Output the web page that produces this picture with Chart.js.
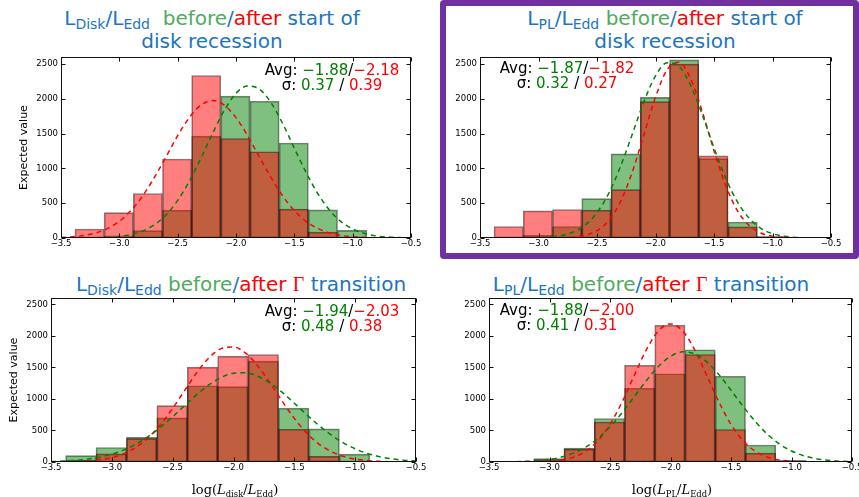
<!DOCTYPE html>
<html>
<head>
<meta charset="utf-8">
<script src="https://cdn.jsdelivr.net/npm/chart.js@4.4.0/dist/chart.umd.min.js"></script>
<style>
body { margin:0; width:859px; height:497px; overflow:hidden; background:#fff; position:relative; font-family:'DejaVu Sans', sans-serif; }
canvas { position:absolute; }
.ttl { position:absolute; font-size:20px; line-height:21px; text-align:center; color:#1b75c2; width:400px; white-space:nowrap; }
.sb { font-size:0.7em; position:relative; top:0.3em; }
.gam { font-family:'Liberation Serif', serif; }
.tg { color:#4fab5e; }
.tr { color:#ff0000; }
.ann { position:absolute; font-size:15px; line-height:15px; text-align:center; width:200px; color:#000; white-space:nowrap; }
.g { color:#008000; }
.r { color:#ff0000; }
.xl { position:absolute; font-family:'DejaVu Serif', serif; font-size:13px; width:200px; text-align:center; color:#000; }
.xl .s2 { font-size:0.65em; position:relative; top:0.35em; }
#box { position:absolute; left:440px; top:0; width:419px; height:259px; border:6px solid #7030a0; box-sizing:border-box; border-radius:4px; }
</style>
</head>
<body>

<div class="ttl" style="left:12px;top:8px">L<span class="sb">Disk</span>/L<span class="sb">Edd</span>&nbsp; <span class="tg">before</span>/<span class="tr">after</span> start of<br>disk recession</div>
<div class="ttl" style="left:465px;top:8px">L<span class="sb">PL</span>/L<span class="sb">Edd</span> <span class="tg">before</span>/<span class="tr">after</span> start of<br>disk recession</div>
<div class="ttl" style="left:41px;top:274px">L<span class="sb">Disk</span>/L<span class="sb">Edd</span> <span class="tg">before</span>/<span class="tr">after</span> <span class="gam tr">&Gamma;</span> transition</div>
<div class="ttl" style="left:451px;top:274px">L<span class="sb">PL</span>/L<span class="sb">Edd</span> <span class="tg">before</span>/<span class="tr">after</span> <span class="gam tr">&Gamma;</span> transition</div>

<canvas id="c1" width="430" height="212" style="left:0;top:49px"></canvas>
<canvas id="c2" width="419" height="212" style="left:440px;top:49px"></canvas>
<canvas id="c3" width="430" height="207" style="left:0;top:290px"></canvas>
<canvas id="c4" width="440" height="207" style="left:440px;top:290px"></canvas>

<div class="ann" style="left:232px;top:63px">Avg: <span class="g">&minus;1.88</span>/<span class="r">&minus;2.18</span><br>&sigma;: <span class="g">0.37</span> / <span class="r">0.39</span></div>
<div class="ann" style="left:467px;top:61px">Avg: <span class="g">&minus;1.87</span>/<span class="r">&minus;1.82</span><br>&sigma;: <span class="g">0.32</span> / <span class="r">0.27</span></div>
<div class="ann" style="left:232px;top:304px">Avg: <span class="g">&minus;1.94</span>/<span class="r">&minus;2.03</span><br>&sigma;: <span class="g">0.48</span> / <span class="r">0.38</span></div>
<div class="ann" style="left:467px;top:303px">Avg: <span class="g">&minus;1.88</span>/<span class="r">&minus;2.00</span><br>&sigma;: <span class="g">0.41</span> / <span class="r">0.31</span></div>

<div class="xl" style="left:135px;top:482px">log(<i>L</i><span class="s2">disk</span>/<i>L</i><span class="s2">Edd</span>)</div>
<div class="xl" style="left:572px;top:482px">log(<i>L</i><span class="s2">PL</span>/<i>L</i><span class="s2">Edd</span>)</div>

<div id="box"></div>

<script>
// histogram bins (centres, width 0.25)
var binCenters = [-3.255, -3.005, -2.755, -2.505, -2.255, -2.005, -1.755, -1.505, -1.255, -1.005];

// tick labels
var xTicks = [-3.5, -3.0, -2.5, -2.0, -1.5, -1.0, -0.5];
var yTicks = [0, 500, 1000, 1500, 2000, 2500];

// L_disk/L_Edd, before/after start of disk recession
var diskRecBefore = [5, 30, 105, 400, 1465, 2040, 1965, 1365, 405, 110];
var diskRecAfter  = [130, 365, 640, 1135, 2335, 1430, 1240, 415, 85, 15];
// L_PL/L_Edd, before/after start of disk recession
var plRecBefore = [15, 40, 165, 565, 1210, 2020, 2560, 1140, 230, 25];
var plRecAfter  = [165, 390, 410, 400, 695, 1960, 2500, 1180, 160, 8];
// L_disk/L_Edd, before/after Gamma transition
var diskGamBefore = [100, 230, 390, 700, 1210, 1195, 1600, 855, 525, 125];
var diskGamAfter  = [25, 130, 370, 895, 1505, 1680, 1705, 520, 90, 10];
// L_PL/L_Edd, before/after Gamma transition
var plGamBefore = [15, 55, 220, 690, 1170, 1400, 1780, 1360, 270, 25];
var plGamAfter  = [5, 40, 205, 635, 1535, 2170, 1705, 515, 140, 10];

// dashed fit curves at these x
var curveX = [-3.5, -3.4, -3.3, -3.2, -3.1, -3.0, -2.9, -2.8, -2.7, -2.6, -2.5, -2.4, -2.3, -2.2, -2.1, -2.0,
              -1.9, -1.8, -1.7, -1.6, -1.5, -1.4, -1.3, -1.2, -1.1, -1.0, -0.9, -0.8, -0.7, -0.6, -0.5];

var diskRecFitBefore = [0, 1, 1, 4, 10, 22, 50, 100, 190, 330, 540, 815, 1150, 1505, 1835, 2080,
                        2185, 2140, 1945, 1645, 1290, 945, 640, 405, 235, 130, 65, 30, 14, 6, 2];
var diskRecFitAfter  = [8, 17, 37, 74, 138, 240, 395, 605, 870, 1165, 1470, 1730, 1910, 1975, 1910, 1730,
                        1470, 1165, 870, 605, 395, 240, 138, 74, 37, 17, 8, 3, 1, 0, 0];
var plRecFitBefore = [0, 0, 0, 0, 1, 5, 14, 37, 88, 188, 365, 640, 1025, 1485, 1955, 2330,
                      2520, 2470, 2195, 1770, 1295, 860, 520, 285, 140, 63, 26, 9, 3, 1, 0];
var plRecFitAfter  = [0, 0, 0, 0, 0, 0, 1, 4, 12, 39, 105, 250, 520, 940, 1480, 2025,
                      2420, 2525, 2290, 1815, 1255, 755, 395, 180, 72, 25, 8, 2, 1, 0, 0];
var diskGamFitBefore = [7, 14, 26, 45, 77, 124, 192, 285, 405, 552, 719, 897, 1072, 1226, 1343, 1409,
                        1415, 1361, 1253, 1105, 933, 754, 584, 433, 307, 209, 136, 85, 50, 29, 16];
var diskGamFitAfter  = [1, 3, 7, 16, 35, 70, 133, 235, 387, 594, 852, 1139, 1422, 1656, 1799, 1824,
                        1726, 1524, 1255, 965, 692, 463, 289, 169, 92, 46, 22, 10, 4, 2, 1];
var plGamFitBefore = [1, 2, 4, 10, 21, 42, 79, 141, 237, 374, 558, 783, 1035, 1290, 1515, 1677,
                      1748, 1717, 1589, 1386, 1139, 882, 644, 442, 286, 175, 100, 54, 28, 13, 6];
var plGamFitAfter  = [0, 0, 0, 1, 4, 12, 32, 78, 171, 337, 597, 952, 1371, 1779, 2079, 2190,
                      2079, 1779, 1371, 952, 597, 337, 171, 78, 32, 12, 4, 1, 0, 0, 0];

var tickFont = { family: 'DejaVu Sans', size: 8.5 };

function minusFmt(v) {
  return (v < 0 ? '\u2212' : '') + Math.abs(v).toFixed(1);
}

function pts(xs, ys) {
  return xs.map(function (x, i) { return { x: x, y: ys[i] }; });
}

function asTicks(arr) {
  return arr.map(function (v) { return { value: v }; });
}

// matplotlib style box with inward ticks on all four sides
var frameTicks = {
  id: 'frameTicks',
  afterDatasetsDraw: function (chart) {
    var ctx = chart.ctx, a = chart.chartArea, xs = chart.scales.x, ys = chart.scales.y;
    var L = Math.round(a.left) + 0.5, R = Math.round(a.right) - 0.5;
    var T = Math.round(a.top) + 0.5, B = Math.round(a.bottom) - 0.5;
    ctx.save();
    ctx.strokeStyle = '#111';
    ctx.lineWidth = 1;
    ctx.strokeRect(L, T, R - L, B - T);
    ctx.beginPath();
    xs.ticks.forEach(function (t) {
      var px = Math.round(xs.getPixelForValue(t.value)) + 0.5;
      ctx.moveTo(px, B); ctx.lineTo(px, B - 4);
      ctx.moveTo(px, T); ctx.lineTo(px, T + 4);
    });
    ys.ticks.forEach(function (t) {
      var py = Math.round(ys.getPixelForValue(t.value)) + 0.5;
      ctx.moveTo(L, py); ctx.lineTo(L + 4, py);
      ctx.moveTo(R, py); ctx.lineTo(R - 4, py);
    });
    ctx.stroke();
    ctx.restore();
  }
};

function drawPanel(id, before, after, fitBefore, fitAfter, box) {
  var yTitle = { display: false };
  if (box.yTitlePad !== undefined) {
    yTitle = { display: true, text: 'Expected value', color: '#000',
               font: { family: 'DejaVu Sans', size: 11 }, padding: { top: box.yTitlePad, bottom: 0 } };
  }
  new Chart(document.getElementById(id), {
    type: 'bar',
    data: {
      datasets: [
        { type: 'line', data: pts(curveX, fitBefore), borderColor: '#008000', borderWidth: 1.5,
          borderDash: [5, 4], pointRadius: 0, fill: false, cubicInterpolationMode: 'monotone', order: 0 },
        { type: 'line', data: pts(curveX, fitAfter), borderColor: '#ff0000', borderWidth: 1.5,
          borderDash: [5, 4], pointRadius: 0, fill: false, cubicInterpolationMode: 'monotone', order: 0 },
        { type: 'bar', data: pts(binCenters, after), backgroundColor: 'rgba(255,0,0,0.5)',
          borderColor: 'rgba(0,0,0,0.5)', borderWidth: 1, borderSkipped: false, grouped: false,
          barPercentage: 1, categoryPercentage: 1, order: 1 },
        { type: 'bar', data: pts(binCenters, before), backgroundColor: 'rgba(0,128,0,0.5)',
          borderColor: 'rgba(0,0,0,0.5)', borderWidth: 1, borderSkipped: false, grouped: false,
          barPercentage: 1, categoryPercentage: 1, order: 2 }
      ]
    },
    options: {
      responsive: false,
      animation: false,
      layout: { padding: { top: 6, right: box.right, left: 0, bottom: 0 } },
      plugins: { legend: { display: false }, tooltip: { enabled: false } },
      scales: {
        x: {
          type: 'linear', offset: false, min: -3.5, max: -0.5,
          grid: { display: false, drawTicks: false }, border: { display: false },
          ticks: { padding: 1, maxRotation: 0, autoSkip: false, color: '#000',
                   font: tickFont, callback: minusFmt },
          afterBuildTicks: function (s) { s.ticks = asTicks(xTicks); },
          afterFit: function (s) { s.height = box.xh; }
        },
        y: {
          min: 0, max: 2600,
          grid: { display: false, drawTicks: false }, border: { display: false },
          ticks: { padding: 3, color: '#000', font: tickFont,
                   callback: function (v) { return String(v); } },
          afterBuildTicks: function (s) { s.ticks = asTicks(yTicks); },
          afterFit: function (s) { s.width = box.yw; },
          title: yTitle
        }
      }
    },
    plugins: [frameTicks]
  });
}

drawPanel('c1', diskRecBefore, diskRecAfter, diskRecFitBefore, diskRecFitAfter, { yw: 61, xh: 23, right: 19, yTitlePad: 18 });
drawPanel('c2', plRecBefore, plRecAfter, plRecFitBefore, plRecFitAfter, { yw: 40, xh: 23, right: 28 });
drawPanel('c3', diskGamBefore, diskGamAfter, diskGamFitBefore, diskGamFitAfter, { yw: 51, xh: 35, right: 14, yTitlePad: 8 });
drawPanel('c4', plGamBefore, plGamAfter, plGamFitBefore, plGamFitAfter, { yw: 49, xh: 35, right: 28 });
</script>
</body>
</html>
